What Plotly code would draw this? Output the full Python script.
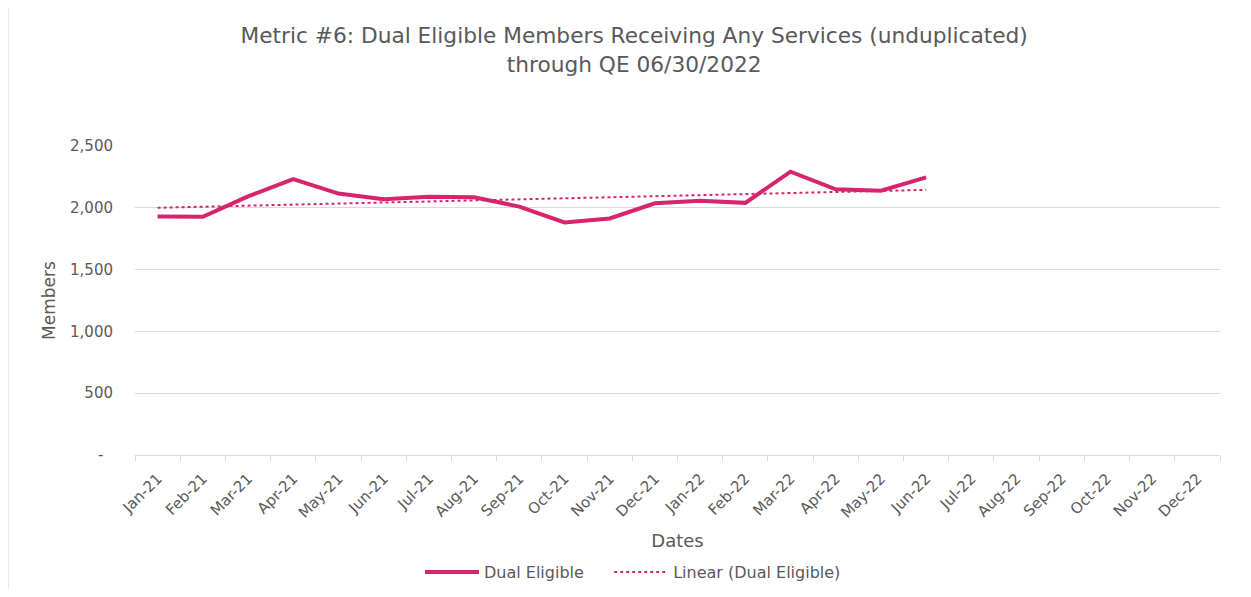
import numpy as np
import plotly.graph_objects as go

months = ["Jan-21", "Feb-21", "Mar-21", "Apr-21", "May-21", "Jun-21", "Jul-21", "Aug-21",
          "Sep-21", "Oct-21", "Nov-21", "Dec-21", "Jan-22", "Feb-22", "Mar-22", "Apr-22",
          "May-22", "Jun-22", "Jul-22", "Aug-22", "Sep-22", "Oct-22", "Nov-22", "Dec-22"]
dual_eligible = [1930, 1928, 2092, 2232, 2115, 2070, 2090, 2085, 2010, 1882, 1914, 2036,
                 2057, 2040, 2292, 2150, 2138, 2246]
y_ticks = [0, 500, 1000, 1500, 2000, 2500]
y_tick_labels = ["-\u00a0\u00a0", "500", "1,000", "1,500", "2,000", "2,500"]
legend_names = ["Dual Eligible" + "\u00a0" * 4, "Linear (Dual Eligible)"]

n = len(dual_eligible)
xs = np.arange(n)
slope, intercept = np.polyfit(xs, dual_eligible, 1)
trend = list(intercept + slope * xs)

color = "#D6246E"
grey = "#595959"
FONT = "DejaVu Sans, Liberation Sans, Arial, sans-serif"

W, H = 1235, 581
L, T, PW, PH = 127, 138, 1085, 309

fig = go.Figure()
fig.add_trace(go.Scatter(x=months[:n], y=dual_eligible, mode="lines", name=legend_names[0],
                         line=dict(color=color, width=4)))
fig.add_trace(go.Scatter(x=months[:n], y=trend, mode="lines", name=legend_names[1],
                         line=dict(color=color, width=2, dash="dot")))

fig.update_layout(
    width=W, height=H,
    paper_bgcolor="white", plot_bgcolor="white",
    font=dict(family=FONT, color=grey, size=13),
    margin=dict(l=L, r=W - L - PW, t=T, b=H - T - PH, autoexpand=False),
    title=dict(text="Metric #6: Dual Eligible Members Receiving Any Services (unduplicated)<br>through QE 06/30/2022",
               x=0.507, xanchor="center", y=0.939, yanchor="top",
               font=dict(size=21.7, color=grey, family=FONT)),
    showlegend=True,
    legend=dict(orientation="h", x=0.459, xanchor="center", yref="container", y=0.029,
                yanchor="middle", itemwidth=54,
                font=dict(size=16, color=grey, family=FONT), traceorder="normal"),
    xaxis=dict(type="category", categoryorder="array", categoryarray=months,
               range=[-0.5, len(months) - 0.5], tickangle=-45, automargin=False,
               showgrid=False, showline=True, linecolor="#D9D9D9", linewidth=1,
               ticks="outside", tickson="boundaries", ticklen=5, tickcolor="#D9D9D9",
               ticklabelstandoff=8,
               tickfont=dict(size=15, color=grey, family=FONT),
               title=dict(text="Dates", font=dict(size=18, color=grey, family=FONT), standoff=13)),
    yaxis=dict(range=[0, 2500], tickvals=y_ticks, ticktext=y_tick_labels, automargin=False,
               showgrid=True, gridcolor="#D9D9D9", gridwidth=1, zeroline=False,
               showline=False, ticks="", ticklabelstandoff=21,
               tickfont=dict(size=15, color=grey, family=FONT),
               title=dict(text="Members", font=dict(size=17, color=grey, family=FONT), standoff=10)),
    shapes=[dict(type="line", xref="paper", yref="paper",
                 x0=-L / PW, x1=-L / PW, y0=-(H - T - PH) / PH, y1=(H - (H - T - PH)) / PH,
                 line=dict(color="#D9D9D9", width=1))],
)

fig.write_html("out.html")
